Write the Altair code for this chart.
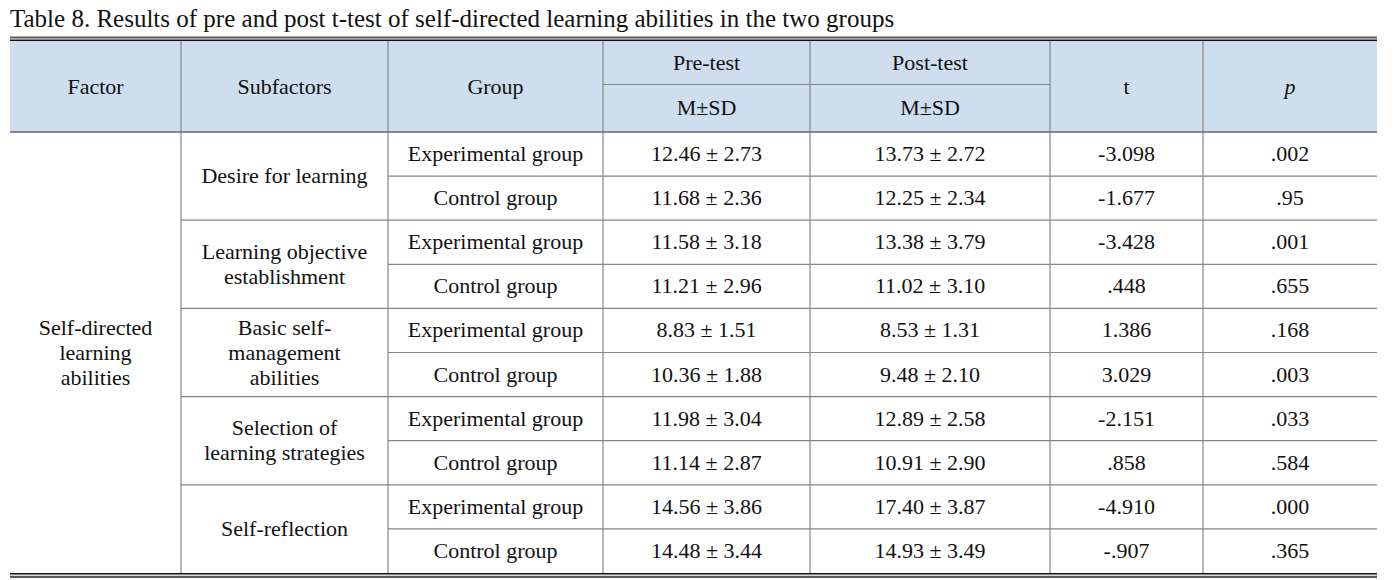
import altair as alt
import pandas as pd

# ---------------- data ----------------
title = "Table 8. Results of pre and post t-test of self-directed learning abilities in the two groups"
header_top = ["Factor", "Subfactors", "Group", "Pre-test", "Post-test", "t", "p"]
header_sub = ["M±SD", "M±SD"]
factor = "Self-directed\nlearning\nabilities"
subfactors = [
    "Desire for learning",
    "Learning objective\nestablishment",
    "Basic self-\nmanagement\nabilities",
    "Selection of\nlearning strategies",
    "Self-reflection",
]
groups = ["Experimental group", "Control group"] * 5
pre = ["12.46 ± 2.73", "11.68 ± 2.36", "11.58 ± 3.18", "11.21 ± 2.96", "8.83 ± 1.51",
       "10.36 ± 1.88", "11.98 ± 3.04", "11.14 ± 2.87", "14.56 ± 3.86", "14.48 ± 3.44"]
post = ["13.73 ± 2.72", "12.25 ± 2.34", "13.38 ± 3.79", "11.02 ± 3.10", "8.53 ± 1.31",
        "9.48 ± 2.10", "12.89 ± 2.58", "10.91 ± 2.90", "17.40 ± 3.87", "14.93 ± 3.49"]
tvals = ["-3.098", "-1.677", "-3.428", ".448", "1.386", "3.029", "-2.151", ".858", "-4.910", "-.907"]
pvals = [".002", ".95", ".001", ".655", ".168", ".003", ".033", ".584", ".000", ".365"]

# ---------------- layout ----------------
cols = [10, 181, 388, 603, 810, 1050, 1203, 1377]
h_top, h_mid, h_bot = 41, 84.5, 132
row_h = 44.1
n_rows = len(groups)
t_bot = h_bot + n_rows * row_h
FONT = "Liberation Serif"
FS = 22
LH = 25

def cx(i, j=None):
    j = i + 1 if j is None else j
    return (cols[i] + cols[j]) / 2

def add(texts, x, y, text, al="center", style="normal", size=FS):
    n = text.count("\n") + 1
    texts.append(dict(x=x, y=y - (n - 1) * LH / 2, text=text, al=al, style=style, size=size))

texts = []
add(texts, cols[0], 19, title, al="left", size=25)
for i, h in enumerate(header_top):
    y = (h_top + h_mid) / 2 if i in (3, 4) else (h_top + h_bot) / 2
    add(texts, cx(i), y, h, style="italic" if h == "p" else "normal")
for k, s in enumerate(header_sub):
    add(texts, cx(3 + k), (h_mid + h_bot) / 2, s)
add(texts, cx(0), (h_bot + t_bot) / 2, factor)
for k, s in enumerate(subfactors):
    add(texts, cx(1), h_bot + (2 * k + 1) * row_h, s)
for r in range(n_rows):
    y = h_bot + (r + 0.5) * row_h
    for c, vals in zip(range(2, 7), [groups, pre, post, tvals, pvals]):
        add(texts, cx(c), y, vals[r])
tdf = pd.DataFrame(texts)

GRAY = "#858585"
lines = []
# top double rule
lines.append(dict(x=cols[0], x2=cols[-1], y=37.5, y2=37.5, c="#5a5a5a", w=2.2))
lines.append(dict(x=cols[0], x2=cols[-1], y=40.3, y2=40.3, c="#111111", w=1.4))
# header split and header bottom
lines.append(dict(x=cols[3], x2=cols[5], y=h_mid, y2=h_mid, c=GRAY, w=1.2))
lines.append(dict(x=cols[0], x2=cols[-1], y=h_bot, y2=h_bot, c="#666666", w=1.3))
# row lines
for r in range(1, n_rows):
    y = h_bot + r * row_h
    start = cols[2] if r % 2 == 1 else cols[1]
    lines.append(dict(x=start, x2=cols[-1], y=y, y2=y, c=GRAY, w=1.2))
# bottom double rule
lines.append(dict(x=cols[0], x2=cols[-1], y=t_bot + 0.8, y2=t_bot + 0.8, c="#111111", w=1.4))
lines.append(dict(x=cols[0], x2=cols[-1], y=t_bot + 3.8, y2=t_bot + 3.8, c="#5a5a5a", w=2.2))
ldf = pd.DataFrame(lines)

vlines = pd.DataFrame([dict(x=c, x2=c, y=41, y2=t_bot, c=GRAY, w=1.2) for c in cols[1:-1]])

W, H = 1381, 572
xs = alt.Scale(domain=[8, 8 + W], nice=False, zero=False)
ys = alt.Scale(domain=[8 + H, 8], nice=False, zero=False)

bg = alt.Chart(pd.DataFrame([dict(x=cols[0], x2=cols[-1], y=h_top, y2=h_bot)])).mark_rect(
    color="#cfdeee"
).encode(
    x=alt.X("x:Q", scale=xs, axis=None), x2="x2:Q",
    y=alt.Y("y:Q", scale=ys, axis=None), y2="y2:Q",
)

def rule_layer(df):
    return alt.Chart(df).mark_rule().encode(
        x=alt.X("x:Q", scale=xs, axis=None), x2="x2:Q",
        y=alt.Y("y:Q", scale=ys, axis=None), y2="y2:Q",
        color=alt.Color("c:N", scale=None),
        strokeWidth=alt.StrokeWidth("w:Q", scale=None),
    )

def text_layer(df, align, style):
    return alt.Chart(df).mark_text(
        font=FONT, baseline="middle", align=align, lineBreak="\n", lineHeight=LH,
        color="#111111", fontStyle=style
    ).encode(
        x=alt.X("x:Q", scale=xs, axis=None),
        y=alt.Y("y:Q", scale=ys, axis=None),
        text="text:N",
        size=alt.Size("size:Q", scale=None),
    )

layers = [bg, rule_layer(vlines), rule_layer(ldf)]
for al in ["left", "center"]:
    for st in ["normal", "italic"]:
        sub = tdf[(tdf["al"] == al) & (tdf["style"] == st)]
        if len(sub):
            layers.append(text_layer(sub, al, st))

chart = alt.layer(*layers).properties(
    width=W, height=H, padding=0, autosize=alt.AutoSizeParams(type="none")
).configure_view(stroke=None)

chart.save("out.html", embed_options={"renderer": "svg", "actions": False})
